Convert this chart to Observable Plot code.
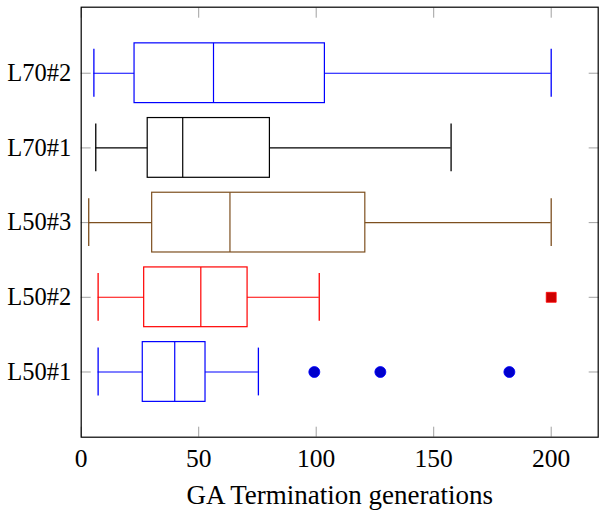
<!DOCTYPE html>
<html>
<head>
<meta charset="utf-8">
<script src="https://cdn.jsdelivr.net/npm/d3@7"></script>
<script src="https://cdn.jsdelivr.net/npm/@observablehq/plot@0.6"></script>
<style>
  html, body { margin: 0; padding: 0; background: #fff; }
  #chart { width: 599px; height: 512px; }
</style>
</head>
<body>
<div id="chart"></div>
<script>
// Categories (bottom to top) and their numeric positions
const categories = ["L50#1", "L50#2", "L50#3", "L70#1", "L70#2"];
const positions = [1, 2, 3, 4, 5];
const colors = ["#0000ff", "#ff0000", "#7d4f1f", "#000000", "#0000ff"];

// Box statistics
const lowerWhisker = [7.2, 7.2, 3.2, 6.2, 5.4];
const lowerQuartile = [26.2, 26.8, 30.2, 28.3, 22.7];
const median = [39.8, 50.9, 63.3, 43.2, 56.3];
const upperQuartile = [52.9, 70.8, 120.9, 80.3, 103.7];
const upperWhisker = [75.4, 101.3, 200, 157.4, 200];

// Outliers
const outliersL50_1 = [99.2, 127.3, 182.2];
const outliersL50_2 = [200];

const xTicks = [0, 50, 100, 150, 200];
const xLabel = "GA Termination generations";

const boxes = categories.map((c, i) => ({
  name: c, pos: positions[i], color: colors[i],
  lw: lowerWhisker[i], q1: lowerQuartile[i], med: median[i],
  q3: upperQuartile[i], uw: upperWhisker[i]
}));
const outCircles = outliersL50_1.map(v => ({x: v, pos: positions[0]}));
const outSquares = outliersL50_2.map(v => ({x: v, pos: positions[1]}));

const BOX = 0.4, CAP = 0.32;
const font = "'Liberation Serif', 'Times New Roman', serif";

const chart = Plot.plot({
  width: 599,
  height: 512,
  marginLeft: 80.7,
  marginRight: 1.3,
  marginTop: 6.7,
  marginBottom: 75.3,
  style: { fontFamily: font, fontSize: "25px", color: "#000", background: "#fff" },
  x: { domain: [0, 220] },
  y: { domain: [0.127, 5.884] },
  marks: [
    // inward tick marks on all sides
    Plot.axisX({ anchor: "bottom", ticks: xTicks, tickSize: -10, stroke: "#a0a0a0", tickFormat: () => "", label: null }),
    Plot.axisX({ anchor: "top", ticks: xTicks, tickSize: -10, stroke: "#a0a0a0", tickFormat: () => "", label: null }),
    Plot.axisY({ anchor: "left", ticks: positions, tickSize: -10, stroke: "#a0a0a0", tickFormat: () => "", label: null }),
    Plot.axisY({ anchor: "right", ticks: positions, tickSize: -10, stroke: "#a0a0a0", tickFormat: () => "", label: null }),
    // tick labels
    Plot.axisX({ anchor: "bottom", ticks: xTicks, tickSize: 0, tickPadding: 11.5, fontSize: 25.5, label: null }),
    Plot.axisY({ anchor: "left", ticks: positions, tickSize: 0, tickPadding: 10, fontSize: 24.5,
                 tickFormat: d => categories[d - 1], label: null }),
    // whiskers
    Plot.ruleY(boxes, { y: "pos", x1: "lw", x2: "q1", stroke: "color", strokeWidth: 1.1 }),
    Plot.ruleY(boxes, { y: "pos", x1: "q3", x2: "uw", stroke: "color", strokeWidth: 1.1 }),
    Plot.ruleX(boxes, { x: "lw", y1: d => d.pos - CAP, y2: d => d.pos + CAP, stroke: "color", strokeWidth: 1.3 }),
    Plot.ruleX(boxes, { x: "uw", y1: d => d.pos - CAP, y2: d => d.pos + CAP, stroke: "color", strokeWidth: 1.3 }),
    // boxes
    Plot.rect(boxes, { x1: "q1", x2: "q3", y1: d => d.pos - BOX, y2: d => d.pos + BOX,
                       fill: "none", stroke: "color", strokeWidth: 1.2 }),
    Plot.ruleX(boxes, { x: "med", y1: d => d.pos - BOX, y2: d => d.pos + BOX, stroke: "color", strokeWidth: 1.2 }),
    // outliers
    Plot.dot(outCircles, { x: "x", y: "pos", r: 5.5, fill: "#0000cc", stroke: "#0000ff", strokeWidth: 0.8 }),
    Plot.dot(outSquares, { x: "x", y: "pos", r: 5.6, symbol: "square", fill: "#cc0000", stroke: "#ff0000", strokeWidth: 0.8 }),
    // frame
    Plot.frame({ stroke: "#000", strokeWidth: 1.2 }),
    // x axis title
    Plot.text([xLabel], { text: d => d, frameAnchor: "bottom", lineAnchor: "bottom", dy: 67, fontSize: 27, fill: "#000" })
  ]
});
document.getElementById("chart").appendChild(chart);
</script>
</body>
</html>
